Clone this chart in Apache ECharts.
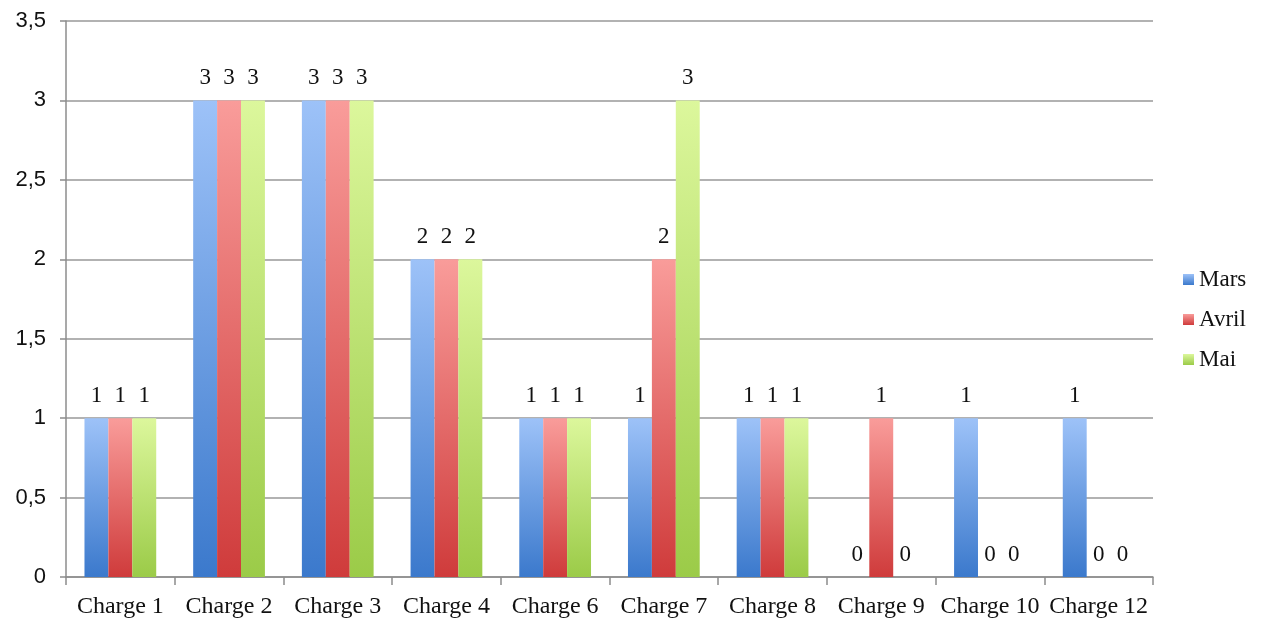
<!DOCTYPE html>
<html>
<head>
<meta charset="utf-8">
<script src="https://cdn.jsdelivr.net/npm/echarts@6/dist/echarts.min.js"></script>
<style>
  html, body { margin: 0; padding: 0; background: #fff; }
  #main { width: 1261px; height: 619px; }
</style>
</head>
<body>
<div id="main"></div>
<script>
// chart data
var categories = ['Charge 1', 'Charge 2', 'Charge 3', 'Charge 4', 'Charge 6', 'Charge 7', 'Charge 8', 'Charge 9', 'Charge 10', 'Charge 12'];
var mars  = [1, 3, 3, 2, 1, 1, 1, 0, 1, 1];
var avril = [1, 3, 3, 2, 1, 2, 1, 1, 0, 0];
var mai   = [1, 3, 3, 2, 1, 3, 1, 0, 0, 0];
var seriesNames = ['Mars', 'Avril', 'Mai'];

var serif = '"Liberation Serif", serif';

function grad(top, bottom) {
  return new echarts.graphic.LinearGradient(0, 0, 0, 1, [
    { offset: 0, color: top },
    { offset: 1, color: bottom }
  ]);
}

function barSeries(name, data, top, bottom) {
  return {
    name: name,
    type: 'bar',
    data: data,
    barGap: '0%',
    barCategoryGap: '34%',
    itemStyle: { color: grad(top, bottom) },
    label: {
      show: true,
      position: 'top',
      distance: 11,
      fontFamily: serif,
      fontSize: 23,
      color: '#111'
    }
  };
}

var chart = echarts.init(document.getElementById('main'));
var option = {
  animation: false,
  color: ['#4a86d8', '#d9494a', '#a2cf5a'],
  grid: { left: 66, right: 108, top: 21, bottom: 42, containLabel: false },
  legend: {
    orient: 'vertical',
    left: 1178,
    top: 263,
    itemWidth: 11,
    itemHeight: 11,
    itemGap: 17,
    icon: 'rect',
    data: seriesNames,
    textStyle: { fontFamily: serif, fontSize: 23, color: '#111' }
  },
  xAxis: {
    type: 'category',
    data: categories,
    axisLine: { lineStyle: { color: '#8c8c8c', width: 1.5 } },
    axisTick: { show: true, length: 8, lineStyle: { color: '#8c8c8c', width: 1.5 } },
    axisLabel: { fontFamily: serif, fontSize: 24, color: '#111', margin: 18, interval: 0 }
  },
  yAxis: {
    type: 'value',
    min: 0,
    max: 3.5,
    interval: 0.5,
    axisLine: { show: true, lineStyle: { color: '#8c8c8c', width: 1.5 } },
    axisTick: { show: true, length: 6, lineStyle: { color: '#8c8c8c', width: 1.5 } },
    splitLine: { lineStyle: { color: '#999', width: 1.5 } },
    axisLabel: {
      fontFamily: '"Liberation Sans", Arial, sans-serif',
      fontSize: 22,
      color: '#111',
      margin: 20,
      formatter: function (v) { return String(v).replace('.', ','); }
    }
  },
  series: [
    barSeries('Mars', mars, '#9dc2f8', '#3b79cc'),
    barSeries('Avril', avril, '#f99c9a', '#cf3b3b'),
    barSeries('Mai', mai, '#dcf79c', '#9bcb48')
  ]
};
chart.setOption(option);
</script>
</body>
</html>
